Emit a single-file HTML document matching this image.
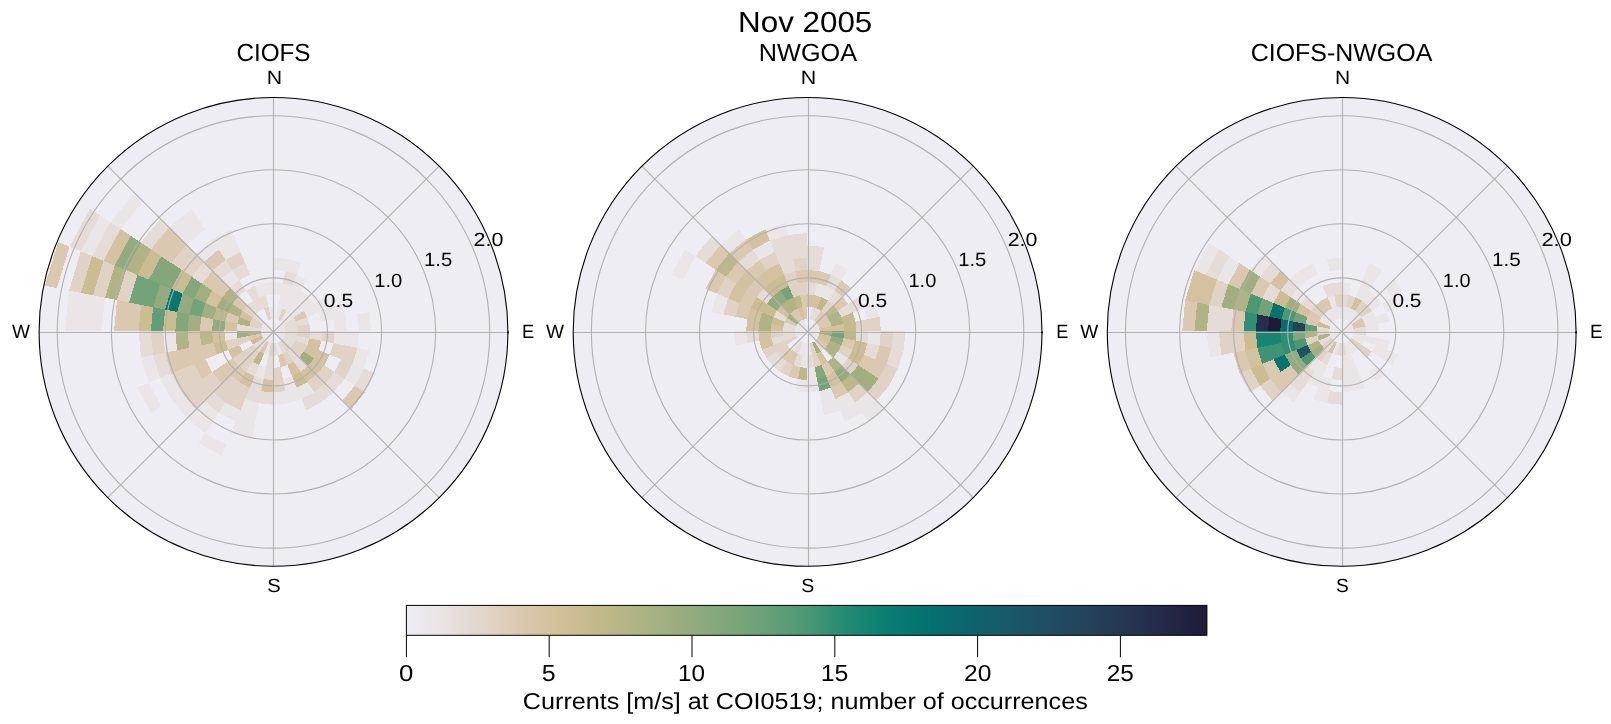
<!DOCTYPE html><html><head><meta charset="utf-8"><title>Nov 2005</title><style>html,body{margin:0;padding:0;background:#fff}body{width:1611px;height:724px;overflow:hidden}svg{display:block}text{font-family:"Liberation Sans",sans-serif;fill:#000}</style></head><body>
<svg width="1611" height="724" viewBox="0 0 1611 724">
<rect width="1611" height="724" fill="#fff"/>
<defs>
<clipPath id="c0"><circle cx="273.5" cy="331.9" r="234.4"/></clipPath>
<clipPath id="c1"><circle cx="807.6" cy="331.9" r="234.4"/></clipPath>
<clipPath id="c2"><circle cx="1341.7" cy="331.9" r="234.4"/></clipPath>
<linearGradient id="cb" x1="0" x2="1" y1="0" y2="0"><stop offset="0.000" stop-color="#eeedf3"/><stop offset="0.050" stop-color="#e8e2e2"/><stop offset="0.100" stop-color="#e1d4c8"/><stop offset="0.150" stop-color="#dac6ac"/><stop offset="0.200" stop-color="#d0be96"/><stop offset="0.250" stop-color="#beb888"/><stop offset="0.300" stop-color="#aab282"/><stop offset="0.350" stop-color="#96ac7e"/><stop offset="0.400" stop-color="#80a67b"/><stop offset="0.450" stop-color="#68a078"/><stop offset="0.500" stop-color="#4c9875"/><stop offset="0.550" stop-color="#228b73"/><stop offset="0.600" stop-color="#0a7e72"/><stop offset="0.650" stop-color="#047170"/><stop offset="0.700" stop-color="#0c656e"/><stop offset="0.750" stop-color="#18596a"/><stop offset="0.800" stop-color="#204e64"/><stop offset="0.850" stop-color="#24425c"/><stop offset="0.900" stop-color="#263652"/><stop offset="0.950" stop-color="#242846"/><stop offset="1.000" stop-color="#201a38"/></linearGradient>
</defs>
<circle cx="273.5" cy="331.9" r="234.4" fill="#eeedf3"/>
<g clip-path="url(#c0)" shape-rendering="crispEdges">
<path d="M273.3 331.2L285.6 331.2L285.3 328.8Z" fill="#eae5e7"/>
<path d="M285.6 331.2L297.8 331.2L297.3 326.4L285.3 328.8Z" fill="#e5dcd7"/>
<path d="M297.8 331.2L310.1 331.2L309.4 324.0L297.3 326.4Z" fill="#e0d2c4"/>
<path d="M334.6 331.2L346.8 331.2L345.4 316.8L333.4 319.2Z" fill="#eae5e7"/>
<path d="M359.1 331.2L371.3 331.2L369.5 312.0L357.4 314.4Z" fill="#eae5e7"/>
<path d="M273.3 331.2L285.3 328.8L284.6 326.5Z" fill="#eae5e7"/>
<path d="M285.3 328.8L297.3 326.4L295.9 321.8L284.6 326.5Z" fill="#e5dcd7"/>
<path d="M297.3 326.4L309.4 324.0L307.3 317.1L295.9 321.8Z" fill="#e5dcd7"/>
<path d="M321.4 321.6L333.4 319.2L329.9 307.7L318.6 312.4Z" fill="#eae5e7"/>
<path d="M333.4 319.2L345.4 316.8L341.2 303.0L329.9 307.7Z" fill="#eae5e7"/>
<path d="M273.3 331.2L284.6 326.5L283.5 324.3Z" fill="#eae5e7"/>
<path d="M284.6 326.5L295.9 321.8L293.7 317.5L283.5 324.3Z" fill="#e5dcd7"/>
<path d="M295.9 321.8L307.3 317.1L303.9 310.7L293.7 317.5Z" fill="#dbc8b0"/>
<path d="M307.3 317.1L318.6 312.4L314.1 303.9L303.9 310.7Z" fill="#eae5e7"/>
<path d="M318.6 312.4L329.9 307.7L324.2 297.1L314.1 303.9Z" fill="#eae5e7"/>
<path d="M273.3 331.2L283.5 324.3L282.0 322.5Z" fill="#eae5e7"/>
<path d="M283.5 324.3L293.7 317.5L290.6 313.8L282.0 322.5Z" fill="#eae5e7"/>
<path d="M293.7 317.5L303.9 310.7L299.3 305.2L290.6 313.8Z" fill="#eae5e7"/>
<path d="M303.9 310.7L314.1 303.9L308.0 296.5L299.3 305.2Z" fill="#eae5e7"/>
<path d="M282.0 322.5L290.6 313.8L286.9 310.8L280.1 321.0Z" fill="#eae5e7"/>
<path d="M290.6 313.8L299.3 305.2L293.7 300.6L286.9 310.8Z" fill="#eae5e7"/>
<path d="M299.3 305.2L308.0 296.5L300.5 290.4L293.7 300.6Z" fill="#eae5e7"/>
<path d="M280.1 321.0L286.9 310.8L282.7 308.5L278.0 319.8Z" fill="#e0d2c4"/>
<path d="M286.9 310.8L293.7 300.6L287.4 297.2L282.7 308.5Z" fill="#eae5e7"/>
<path d="M293.7 300.6L300.5 290.4L292.1 285.9L287.4 297.2Z" fill="#eae5e7"/>
<path d="M300.5 290.4L307.3 280.2L296.7 274.5L292.1 285.9Z" fill="#eae5e7"/>
<path d="M278.0 319.8L282.7 308.5L278.1 307.1L275.7 319.1Z" fill="#eae5e7"/>
<path d="M282.7 308.5L287.4 297.2L280.5 295.1L278.1 307.1Z" fill="#eae5e7"/>
<path d="M287.4 297.2L292.1 285.9L282.9 283.1L280.5 295.1Z" fill="#eae5e7"/>
<path d="M292.1 285.9L296.7 274.5L285.3 271.1L282.9 283.1Z" fill="#e5dcd7"/>
<path d="M296.7 274.5L301.4 263.2L287.6 259.0L285.3 271.1Z" fill="#eae5e7"/>
<path d="M280.5 295.1L282.9 283.1L273.3 282.1L273.3 294.4Z" fill="#eae5e7"/>
<path d="M285.3 271.1L287.6 259.0L273.3 257.6L273.3 269.9Z" fill="#eae5e7"/>
<path d="M273.3 318.9L273.3 306.6L268.5 307.1L270.9 319.1Z" fill="#eae5e7"/>
<path d="M273.3 294.4L273.3 282.1L263.7 283.1L266.1 295.1Z" fill="#eae5e7"/>
<path d="M270.9 319.1L268.5 307.1L263.9 308.5L268.6 319.8Z" fill="#e0d2c4"/>
<path d="M268.5 307.1L266.1 295.1L259.2 297.2L263.9 308.5Z" fill="#e5dcd7"/>
<path d="M266.1 295.1L263.7 283.1L254.5 285.9L259.2 297.2Z" fill="#eae5e7"/>
<path d="M263.9 308.5L259.2 297.2L252.9 300.6L259.7 310.8Z" fill="#e5dcd7"/>
<path d="M259.2 297.2L254.5 285.9L246.1 290.4L252.9 300.6Z" fill="#e5dcd7"/>
<path d="M249.9 274.5L245.2 263.2L232.4 270.0L239.3 280.2Z" fill="#e5dcd7"/>
<path d="M245.2 263.2L240.5 251.9L225.6 259.8L232.4 270.0Z" fill="#e0d2c4"/>
<path d="M240.5 251.9L235.8 240.6L218.8 249.6L225.6 259.8Z" fill="#eae5e7"/>
<path d="M235.8 240.6L231.1 229.3L212.0 239.4L218.8 249.6Z" fill="#eae5e7"/>
<path d="M259.7 310.8L252.9 300.6L247.3 305.2L256.0 313.8Z" fill="#e5dcd7"/>
<path d="M246.1 290.4L239.3 280.2L230.0 287.8L238.6 296.5Z" fill="#e5dcd7"/>
<path d="M239.3 280.2L232.4 270.0L221.3 279.2L230.0 287.8Z" fill="#eae5e7"/>
<path d="M232.4 270.0L225.6 259.8L212.6 270.5L221.3 279.2Z" fill="#e5dcd7"/>
<path d="M225.6 259.8L218.8 249.6L204.0 261.8L212.6 270.5Z" fill="#dbc8b0"/>
<path d="M218.8 249.6L212.0 239.4L195.3 253.2L204.0 261.8Z" fill="#eae5e7"/>
<path d="M205.2 229.3L198.4 219.1L178.0 235.8L186.6 244.5Z" fill="#eae5e7"/>
<path d="M198.4 219.1L191.6 208.9L169.3 227.2L178.0 235.8Z" fill="#eae5e7"/>
<path d="M273.3 331.2L264.6 322.5L263.1 324.3Z" fill="#eae5e7"/>
<path d="M264.6 322.5L256.0 313.8L252.9 317.5L263.1 324.3Z" fill="#e5dcd7"/>
<path d="M256.0 313.8L247.3 305.2L242.7 310.7L252.9 317.5Z" fill="#e0d2c4"/>
<path d="M247.3 305.2L238.6 296.5L232.5 303.9L242.7 310.7Z" fill="#dbc8b0"/>
<path d="M238.6 296.5L230.0 287.8L222.4 297.1L232.5 303.9Z" fill="#b0b484"/>
<path d="M230.0 287.8L221.3 279.2L212.2 290.3L222.4 297.1Z" fill="#dbc8b0"/>
<path d="M221.3 279.2L212.6 270.5L202.0 283.5L212.2 290.3Z" fill="#dbc8b0"/>
<path d="M212.6 270.5L204.0 261.8L191.8 276.7L202.0 283.5Z" fill="#e5dcd7"/>
<path d="M204.0 261.8L195.3 253.2L181.6 269.9L191.8 276.7Z" fill="#e0d2c4"/>
<path d="M195.3 253.2L186.6 244.5L171.4 263.1L181.6 269.9Z" fill="#e0d2c4"/>
<path d="M186.6 244.5L178.0 235.8L161.2 256.3L171.4 263.1Z" fill="#dbc8b0"/>
<path d="M178.0 235.8L169.3 227.2L151.0 249.4L161.2 256.3Z" fill="#dbc8b0"/>
<path d="M169.3 227.2L160.6 218.5L140.8 242.6L151.0 249.4Z" fill="#e5dcd7"/>
<path d="M143.3 201.2L134.7 192.5L110.3 222.2L120.5 229.0Z" fill="#eae5e7"/>
<path d="M273.3 331.2L263.1 324.3L262.0 326.5Z" fill="#eae5e7"/>
<path d="M263.1 324.3L252.9 317.5L250.7 321.8L262.0 326.5Z" fill="#e0d2c4"/>
<path d="M252.9 317.5L242.7 310.7L239.3 317.1L250.7 321.8Z" fill="#d4c19f"/>
<path d="M242.7 310.7L232.5 303.9L228.0 312.4L239.3 317.1Z" fill="#b0b484"/>
<path d="M232.5 303.9L222.4 297.1L216.7 307.7L228.0 312.4Z" fill="#a1af80"/>
<path d="M222.4 297.1L212.2 290.3L205.4 303.0L216.7 307.7Z" fill="#d4c19f"/>
<path d="M212.2 290.3L202.0 283.5L194.0 298.3L205.4 303.0Z" fill="#a1af80"/>
<path d="M202.0 283.5L191.8 276.7L182.7 293.6L194.0 298.3Z" fill="#83a77b"/>
<path d="M191.8 276.7L181.6 269.9L171.4 288.9L182.7 293.6Z" fill="#cbbc92"/>
<path d="M181.6 269.9L171.4 263.1L160.1 284.3L171.4 288.9Z" fill="#83a77b"/>
<path d="M171.4 263.1L161.2 256.3L148.8 279.6L160.1 284.3Z" fill="#83a77b"/>
<path d="M161.2 256.3L151.0 249.4L137.4 274.9L148.8 279.6Z" fill="#cbbc92"/>
<path d="M151.0 249.4L140.8 242.6L126.1 270.2L137.4 274.9Z" fill="#b0b484"/>
<path d="M140.8 242.6L130.6 235.8L114.8 265.5L126.1 270.2Z" fill="#93ab7e"/>
<path d="M130.6 235.8L120.5 229.0L103.5 260.8L114.8 265.5Z" fill="#d4c19f"/>
<path d="M120.5 229.0L110.3 222.2L92.1 256.1L103.5 260.8Z" fill="#e5dcd7"/>
<path d="M110.3 222.2L100.1 215.4L80.8 251.4L92.1 256.1Z" fill="#eae5e7"/>
<path d="M100.1 215.4L89.9 208.6L69.5 246.7L80.8 251.4Z" fill="#e5dcd7"/>
<path d="M273.3 331.2L262.0 326.5L261.3 328.8Z" fill="#eae5e7"/>
<path d="M262.0 326.5L250.7 321.8L249.3 326.4L261.3 328.8Z" fill="#e0d2c4"/>
<path d="M250.7 321.8L239.3 317.1L237.2 324.0L249.3 326.4Z" fill="#b0b484"/>
<path d="M239.3 317.1L228.0 312.4L225.2 321.6L237.2 324.0Z" fill="#dbc8b0"/>
<path d="M228.0 312.4L216.7 307.7L213.2 319.2L225.2 321.6Z" fill="#beb888"/>
<path d="M216.7 307.7L205.4 303.0L201.2 316.8L213.2 319.2Z" fill="#a1af80"/>
<path d="M205.4 303.0L194.0 298.3L189.2 314.4L201.2 316.8Z" fill="#72a379"/>
<path d="M194.0 298.3L182.7 293.6L177.1 312.0L189.2 314.4Z" fill="#93ab7e"/>
<path d="M182.7 293.6L171.4 288.9L165.1 309.6L177.1 312.0Z" fill="#077871"/>
<path d="M171.4 288.9L160.1 284.3L153.1 307.2L165.1 309.6Z" fill="#93ab7e"/>
<path d="M160.1 284.3L148.8 279.6L141.1 304.9L153.1 307.2Z" fill="#72a379"/>
<path d="M148.8 279.6L137.4 274.9L129.1 302.5L141.1 304.9Z" fill="#72a379"/>
<path d="M137.4 274.9L126.1 270.2L117.0 300.1L129.1 302.5Z" fill="#e0d2c4"/>
<path d="M126.1 270.2L114.8 265.5L105.0 297.7L117.0 300.1Z" fill="#b0b484"/>
<path d="M114.8 265.5L103.5 260.8L93.0 295.3L105.0 297.7Z" fill="#e0d2c4"/>
<path d="M103.5 260.8L92.1 256.1L81.0 292.9L93.0 295.3Z" fill="#cbbc92"/>
<path d="M92.1 256.1L80.8 251.4L69.0 290.5L81.0 292.9Z" fill="#e0d2c4"/>
<path d="M69.5 246.7L58.2 242.0L44.9 285.7L56.9 288.1Z" fill="#dbc8b0"/>
<path d="M273.3 331.2L261.3 328.8L261.0 331.2Z" fill="#eae5e7"/>
<path d="M261.3 328.8L249.3 326.4L248.8 331.2L261.0 331.2Z" fill="#e5dcd7"/>
<path d="M249.3 326.4L237.2 324.0L236.5 331.2L248.8 331.2Z" fill="#e5dcd7"/>
<path d="M237.2 324.0L225.2 321.6L224.3 331.2L236.5 331.2Z" fill="#d4c19f"/>
<path d="M225.2 321.6L213.2 319.2L212.0 331.2L224.3 331.2Z" fill="#93ab7e"/>
<path d="M213.2 319.2L201.2 316.8L199.8 331.2L212.0 331.2Z" fill="#dbc8b0"/>
<path d="M201.2 316.8L189.2 314.4L187.5 331.2L199.8 331.2Z" fill="#a1af80"/>
<path d="M189.2 314.4L177.1 312.0L175.3 331.2L187.5 331.2Z" fill="#83a77b"/>
<path d="M177.1 312.0L165.1 309.6L163.0 331.2L175.3 331.2Z" fill="#cbbc92"/>
<path d="M165.1 309.6L153.1 307.2L150.8 331.2L163.0 331.2Z" fill="#609e77"/>
<path d="M153.1 307.2L141.1 304.9L138.5 331.2L150.8 331.2Z" fill="#cbbc92"/>
<path d="M141.1 304.9L129.1 302.5L126.2 331.2L138.5 331.2Z" fill="#dbc8b0"/>
<path d="M129.1 302.5L117.0 300.1L114.0 331.2L126.2 331.2Z" fill="#dbc8b0"/>
<path d="M105.0 297.7L93.0 295.3L89.5 331.2L101.7 331.2Z" fill="#eae5e7"/>
<path d="M93.0 295.3L81.0 292.9L77.2 331.2L89.5 331.2Z" fill="#eae5e7"/>
<path d="M81.0 292.9L69.0 290.5L65.0 331.2L77.2 331.2Z" fill="#eae5e7"/>
<path d="M273.3 331.2L261.0 331.2L261.3 333.5Z" fill="#e5dcd7"/>
<path d="M261.0 331.2L248.8 331.2L249.3 335.9L261.3 333.5Z" fill="#b0b484"/>
<path d="M248.8 331.2L236.5 331.2L237.2 338.3L249.3 335.9Z" fill="#a1af80"/>
<path d="M236.5 331.2L224.3 331.2L225.2 340.7L237.2 338.3Z" fill="#eae5e7"/>
<path d="M224.3 331.2L212.0 331.2L213.2 343.1L225.2 340.7Z" fill="#d4c19f"/>
<path d="M212.0 331.2L199.8 331.2L201.2 345.5L213.2 343.1Z" fill="#beb888"/>
<path d="M199.8 331.2L187.5 331.2L189.2 347.9L201.2 345.5Z" fill="#dbc8b0"/>
<path d="M187.5 331.2L175.3 331.2L177.1 350.3L189.2 347.9Z" fill="#b0b484"/>
<path d="M175.3 331.2L163.0 331.2L165.1 352.7L177.1 350.3Z" fill="#eae5e7"/>
<path d="M163.0 331.2L150.8 331.2L153.1 355.1L165.1 352.7Z" fill="#e0d2c4"/>
<path d="M150.8 331.2L138.5 331.2L141.1 357.4L153.1 355.1Z" fill="#e5dcd7"/>
<path d="M273.3 331.2L261.3 333.5L262.0 335.8Z" fill="#eae5e7"/>
<path d="M261.3 333.5L249.3 335.9L250.7 340.5L262.0 335.8Z" fill="#dbc8b0"/>
<path d="M249.3 335.9L237.2 338.3L239.3 345.2L250.7 340.5Z" fill="#e0d2c4"/>
<path d="M237.2 338.3L225.2 340.7L228.0 349.9L239.3 345.2Z" fill="#e0d2c4"/>
<path d="M225.2 340.7L213.2 343.1L216.7 354.6L228.0 349.9Z" fill="#cbbc92"/>
<path d="M213.2 343.1L201.2 345.5L205.4 359.3L216.7 354.6Z" fill="#dbc8b0"/>
<path d="M201.2 345.5L189.2 347.9L194.0 364.0L205.4 359.3Z" fill="#dbc8b0"/>
<path d="M189.2 347.9L177.1 350.3L182.7 368.7L194.0 364.0Z" fill="#dbc8b0"/>
<path d="M177.1 350.3L165.1 352.7L171.4 373.4L182.7 368.7Z" fill="#dbc8b0"/>
<path d="M165.1 352.7L153.1 355.1L160.1 378.0L171.4 373.4Z" fill="#e5dcd7"/>
<path d="M153.1 355.1L141.1 357.4L148.8 382.7L160.1 378.0Z" fill="#eae5e7"/>
<path d="M273.3 331.2L262.0 335.8L263.1 338.0Z" fill="#eae5e7"/>
<path d="M262.0 335.8L250.7 340.5L252.9 344.8L263.1 338.0Z" fill="#cbbc92"/>
<path d="M239.3 345.2L228.0 349.9L232.5 358.4L242.7 351.6Z" fill="#d4c19f"/>
<path d="M205.4 359.3L194.0 364.0L202.0 378.8L212.2 372.0Z" fill="#dbc8b0"/>
<path d="M194.0 364.0L182.7 368.7L191.8 385.6L202.0 378.8Z" fill="#e0d2c4"/>
<path d="M182.7 368.7L171.4 373.4L181.6 392.4L191.8 385.6Z" fill="#e0d2c4"/>
<path d="M171.4 373.4L160.1 378.0L171.4 399.2L181.6 392.4Z" fill="#eae5e7"/>
<path d="M148.8 382.7L137.4 387.4L151.0 412.9L161.2 406.0Z" fill="#eae5e7"/>
<path d="M273.3 331.2L263.1 338.0L264.6 339.8Z" fill="#eae5e7"/>
<path d="M263.1 338.0L252.9 344.8L256.0 348.5L264.6 339.8Z" fill="#e5dcd7"/>
<path d="M252.9 344.8L242.7 351.6L247.3 357.1L256.0 348.5Z" fill="#e0d2c4"/>
<path d="M242.7 351.6L232.5 358.4L238.6 365.8L247.3 357.1Z" fill="#e0d2c4"/>
<path d="M232.5 358.4L222.4 365.2L230.0 374.5L238.6 365.8Z" fill="#dbc8b0"/>
<path d="M222.4 365.2L212.2 372.0L221.3 383.1L230.0 374.5Z" fill="#dbc8b0"/>
<path d="M212.2 372.0L202.0 378.8L212.6 391.8L221.3 383.1Z" fill="#e0d2c4"/>
<path d="M202.0 378.8L191.8 385.6L204.0 400.5L212.6 391.8Z" fill="#e0d2c4"/>
<path d="M191.8 385.6L181.6 392.4L195.3 409.1L204.0 400.5Z" fill="#e0d2c4"/>
<path d="M181.6 392.4L171.4 399.2L186.6 417.8L195.3 409.1Z" fill="#eae5e7"/>
<path d="M273.3 331.2L264.6 339.8L266.5 341.3Z" fill="#eae5e7"/>
<path d="M264.6 339.8L256.0 348.5L259.7 351.5L266.5 341.3Z" fill="#e5dcd7"/>
<path d="M256.0 348.5L247.3 357.1L252.9 361.7L259.7 351.5Z" fill="#e0d2c4"/>
<path d="M247.3 357.1L238.6 365.8L246.1 371.9L252.9 361.7Z" fill="#e0d2c4"/>
<path d="M238.6 365.8L230.0 374.5L239.3 382.1L246.1 371.9Z" fill="#dbc8b0"/>
<path d="M230.0 374.5L221.3 383.1L232.4 392.3L239.3 382.1Z" fill="#e0d2c4"/>
<path d="M221.3 383.1L212.6 391.8L225.6 402.5L232.4 392.3Z" fill="#e0d2c4"/>
<path d="M212.6 391.8L204.0 400.5L218.8 412.7L225.6 402.5Z" fill="#e5dcd7"/>
<path d="M204.0 400.5L195.3 409.1L212.0 422.9L218.8 412.7Z" fill="#eae5e7"/>
<path d="M195.3 409.1L186.6 417.8L205.2 433.0L212.0 422.9Z" fill="#eae5e7"/>
<path d="M273.3 331.2L266.5 341.3L268.6 342.5Z" fill="#eae5e7"/>
<path d="M266.5 341.3L259.7 351.5L263.9 353.8L268.6 342.5Z" fill="#dbc8b0"/>
<path d="M259.7 351.5L252.9 361.7L259.2 365.1L263.9 353.8Z" fill="#beb888"/>
<path d="M252.9 361.7L246.1 371.9L254.5 376.4L259.2 365.1Z" fill="#e5dcd7"/>
<path d="M246.1 371.9L239.3 382.1L249.9 387.8L254.5 376.4Z" fill="#d4c19f"/>
<path d="M239.3 382.1L232.4 392.3L245.2 399.1L249.9 387.8Z" fill="#e0d2c4"/>
<path d="M232.4 392.3L225.6 402.5L240.5 410.4L245.2 399.1Z" fill="#e0d2c4"/>
<path d="M225.6 402.5L218.8 412.7L235.8 421.7L240.5 410.4Z" fill="#eae5e7"/>
<path d="M205.2 433.0L198.4 443.2L221.7 455.7L226.4 444.4Z" fill="#eae5e7"/>
<path d="M273.3 331.2L268.6 342.5L270.9 343.2Z" fill="#eae5e7"/>
<path d="M268.6 342.5L263.9 353.8L268.5 355.2L270.9 343.2Z" fill="#eae5e7"/>
<path d="M259.2 365.1L254.5 376.4L263.7 379.2L266.1 367.2Z" fill="#eae5e7"/>
<path d="M254.5 376.4L249.9 387.8L261.3 391.2L263.7 379.2Z" fill="#e5dcd7"/>
<path d="M249.9 387.8L245.2 399.1L259.0 403.3L261.3 391.2Z" fill="#e5dcd7"/>
<path d="M245.2 399.1L240.5 410.4L256.6 415.3L259.0 403.3Z" fill="#eae5e7"/>
<path d="M240.5 410.4L235.8 421.7L254.2 427.3L256.6 415.3Z" fill="#eae5e7"/>
<path d="M235.8 421.7L231.1 433.0L251.8 439.3L254.2 427.3Z" fill="#eae5e7"/>
<path d="M273.3 331.2L270.9 343.2L273.3 343.4Z" fill="#eae5e7"/>
<path d="M270.9 343.2L268.5 355.2L273.3 355.7L273.3 343.4Z" fill="#e0d2c4"/>
<path d="M268.5 355.2L266.1 367.2L273.3 367.9L273.3 355.7Z" fill="#e5dcd7"/>
<path d="M266.1 367.2L263.7 379.2L273.3 380.2L273.3 367.9Z" fill="#e5dcd7"/>
<path d="M263.7 379.2L261.3 391.2L273.3 392.4L273.3 380.2Z" fill="#d4c19f"/>
<path d="M261.3 391.2L259.0 403.3L273.3 404.7L273.3 392.4Z" fill="#e5dcd7"/>
<path d="M273.3 343.4L273.3 355.7L278.1 355.2L275.7 343.2Z" fill="#e5dcd7"/>
<path d="M273.3 367.9L273.3 380.2L282.9 379.2L280.5 367.2Z" fill="#e0d2c4"/>
<path d="M273.3 380.2L273.3 392.4L285.3 391.2L282.9 379.2Z" fill="#e0d2c4"/>
<path d="M273.3 392.4L273.3 404.7L287.6 403.3L285.3 391.2Z" fill="#eae5e7"/>
<path d="M275.7 343.2L278.1 355.2L282.7 353.8L278.0 342.5Z" fill="#eae5e7"/>
<path d="M278.1 355.2L280.5 367.2L287.4 365.1L282.7 353.8Z" fill="#dbc8b0"/>
<path d="M282.9 379.2L285.3 391.2L296.7 387.8L292.1 376.4Z" fill="#eae5e7"/>
<path d="M285.3 391.2L287.6 403.3L301.4 399.1L296.7 387.8Z" fill="#eae5e7"/>
<path d="M278.0 342.5L282.7 353.8L286.9 351.5L280.1 341.3Z" fill="#e5dcd7"/>
<path d="M282.7 353.8L287.4 365.1L293.7 361.7L286.9 351.5Z" fill="#e0d2c4"/>
<path d="M287.4 365.1L292.1 376.4L300.5 371.9L293.7 361.7Z" fill="#d4c19f"/>
<path d="M292.1 376.4L296.7 387.8L307.3 382.1L300.5 371.9Z" fill="#cbbc92"/>
<path d="M296.7 387.8L301.4 399.1L314.2 392.3L307.3 382.1Z" fill="#eae5e7"/>
<path d="M301.4 399.1L306.1 410.4L321.0 402.5L314.2 392.3Z" fill="#e5dcd7"/>
<path d="M273.3 331.2L280.1 341.3L282.0 339.8Z" fill="#eae5e7"/>
<path d="M280.1 341.3L286.9 351.5L290.6 348.5L282.0 339.8Z" fill="#e0d2c4"/>
<path d="M286.9 351.5L293.7 361.7L299.3 357.1L290.6 348.5Z" fill="#e5dcd7"/>
<path d="M293.7 361.7L300.5 371.9L308.0 365.8L299.3 357.1Z" fill="#e5dcd7"/>
<path d="M300.5 371.9L307.3 382.1L316.6 374.5L308.0 365.8Z" fill="#d4c19f"/>
<path d="M307.3 382.1L314.2 392.3L325.3 383.1L316.6 374.5Z" fill="#e0d2c4"/>
<path d="M314.2 392.3L321.0 402.5L334.0 391.8L325.3 383.1Z" fill="#e5dcd7"/>
<path d="M273.3 331.2L282.0 339.8L283.5 338.0Z" fill="#eae5e7"/>
<path d="M282.0 339.8L290.6 348.5L293.7 344.8L283.5 338.0Z" fill="#e5dcd7"/>
<path d="M290.6 348.5L299.3 357.1L303.9 351.6L293.7 344.8Z" fill="#e0d2c4"/>
<path d="M299.3 357.1L308.0 365.8L314.1 358.4L303.9 351.6Z" fill="#a1af80"/>
<path d="M308.0 365.8L316.6 374.5L324.2 365.2L314.1 358.4Z" fill="#d4c19f"/>
<path d="M316.6 374.5L325.3 383.1L334.4 372.0L324.2 365.2Z" fill="#e0d2c4"/>
<path d="M325.3 383.1L334.0 391.8L344.6 378.8L334.4 372.0Z" fill="#e5dcd7"/>
<path d="M342.6 400.5L351.3 409.1L365.0 392.4L354.8 385.6Z" fill="#dbc8b0"/>
<path d="M273.3 331.2L283.5 338.0L284.6 335.8Z" fill="#eae5e7"/>
<path d="M283.5 338.0L293.7 344.8L295.9 340.5L284.6 335.8Z" fill="#e5dcd7"/>
<path d="M293.7 344.8L303.9 351.6L307.3 345.2L295.9 340.5Z" fill="#e0d2c4"/>
<path d="M303.9 351.6L314.1 358.4L318.6 349.9L307.3 345.2Z" fill="#d4c19f"/>
<path d="M314.1 358.4L324.2 365.2L329.9 354.6L318.6 349.9Z" fill="#d4c19f"/>
<path d="M334.4 372.0L344.6 378.8L352.6 364.0L341.2 359.3Z" fill="#e0d2c4"/>
<path d="M344.6 378.8L354.8 385.6L363.9 368.7L352.6 364.0Z" fill="#eae5e7"/>
<path d="M354.8 385.6L365.0 392.4L375.2 373.4L363.9 368.7Z" fill="#e5dcd7"/>
<path d="M273.3 331.2L284.6 335.8L285.3 333.5Z" fill="#eae5e7"/>
<path d="M284.6 335.8L295.9 340.5L297.3 335.9L285.3 333.5Z" fill="#e5dcd7"/>
<path d="M295.9 340.5L307.3 345.2L309.4 338.3L297.3 335.9Z" fill="#e5dcd7"/>
<path d="M307.3 345.2L318.6 349.9L321.4 340.7L309.4 338.3Z" fill="#d4c19f"/>
<path d="M329.9 354.6L341.2 359.3L345.4 345.5L333.4 343.1Z" fill="#e0d2c4"/>
<path d="M341.2 359.3L352.6 364.0L357.4 347.9L345.4 345.5Z" fill="#e0d2c4"/>
<path d="M352.6 364.0L363.9 368.7L369.5 350.3L357.4 347.9Z" fill="#eae5e7"/>
<path d="M273.3 331.2L285.3 333.5L285.6 331.2Z" fill="#eae5e7"/>
<path d="M285.3 333.5L297.3 335.9L297.8 331.2L285.6 331.2Z" fill="#e5dcd7"/>
<path d="M297.3 335.9L309.4 338.3L310.1 331.2L297.8 331.2Z" fill="#e0d2c4"/>
<path d="M309.4 338.3L321.4 340.7L322.3 331.2L310.1 331.2Z" fill="#e5dcd7"/>
<path d="M321.4 340.7L333.4 343.1L334.6 331.2L322.3 331.2Z" fill="#e0d2c4"/>
<path d="M333.4 343.1L345.4 345.5L346.8 331.2L334.6 331.2Z" fill="#eae5e7"/>
<path d="M345.4 345.5L357.4 347.9L359.1 331.2L346.8 331.2Z" fill="#eae5e7"/>
</g>
<g stroke="#b0b0b0" stroke-width="1.1" fill="none" clip-path="url(#c0)">
<circle cx="273.5" cy="331.9" r="54.0"/>
<circle cx="273.5" cy="331.9" r="108.1"/>
<circle cx="273.5" cy="331.9" r="162.1"/>
<circle cx="273.5" cy="331.9" r="216.2"/>
<line x1="273.5" y1="331.9" x2="439.2" y2="166.1"/>
<line x1="273.5" y1="331.9" x2="107.8" y2="166.1"/>
<line x1="273.5" y1="331.9" x2="107.8" y2="497.6"/>
<line x1="273.5" y1="331.9" x2="439.2" y2="497.6"/>
<line x1="273.5" y1="97.5" x2="273.5" y2="566.2"/>
<line x1="39.1" y1="332.5" x2="507.9" y2="332.5"/>
</g>
<circle cx="273.5" cy="331.9" r="234.4" fill="none" stroke="#000" stroke-width="1.1"/>
<rect x="507.0" y="331.5" width="1.8" height="1.8" fill="#000"/>
<circle cx="807.6" cy="331.9" r="234.4" fill="#eeedf3"/>
<g clip-path="url(#c1)" shape-rendering="crispEdges">
<path d="M807.4 331.2L819.7 331.2L819.4 328.8Z" fill="#eae5e7"/>
<path d="M819.7 331.2L831.9 331.2L831.4 326.4L819.4 328.8Z" fill="#d4c19f"/>
<path d="M831.9 331.2L844.2 331.2L843.5 324.0L831.4 326.4Z" fill="#d4c19f"/>
<path d="M844.2 331.2L856.4 331.2L855.5 321.6L843.5 324.0Z" fill="#c4ba8d"/>
<path d="M856.4 331.2L868.7 331.2L867.5 319.2L855.5 321.6Z" fill="#e0d2c4"/>
<path d="M868.7 331.2L880.9 331.2L879.5 316.8L867.5 319.2Z" fill="#e0d2c4"/>
<path d="M807.4 331.2L819.4 328.8L818.7 326.5Z" fill="#eae5e7"/>
<path d="M819.4 328.8L831.4 326.4L830.0 321.8L818.7 326.5Z" fill="#dbc8b0"/>
<path d="M831.4 326.4L843.5 324.0L841.4 317.1L830.0 321.8Z" fill="#b0b484"/>
<path d="M843.5 324.0L855.5 321.6L852.7 312.4L841.4 317.1Z" fill="#c4ba8d"/>
<path d="M867.5 319.2L879.5 316.8L875.3 303.0L864.0 307.7Z" fill="#eae5e7"/>
<path d="M807.4 331.2L818.7 326.5L817.6 324.3Z" fill="#eae5e7"/>
<path d="M818.7 326.5L830.0 321.8L827.8 317.5L817.6 324.3Z" fill="#dbc8b0"/>
<path d="M830.0 321.8L841.4 317.1L838.0 310.7L827.8 317.5Z" fill="#b0b484"/>
<path d="M841.4 317.1L852.7 312.4L848.2 303.9L838.0 310.7Z" fill="#e5dcd7"/>
<path d="M852.7 312.4L864.0 307.7L858.3 297.1L848.2 303.9Z" fill="#e5dcd7"/>
<path d="M807.4 331.2L817.6 324.3L816.1 322.5Z" fill="#eae5e7"/>
<path d="M817.6 324.3L827.8 317.5L824.7 313.8L816.1 322.5Z" fill="#dbc8b0"/>
<path d="M827.8 317.5L838.0 310.7L833.4 305.2L824.7 313.8Z" fill="#beb888"/>
<path d="M838.0 310.7L848.2 303.9L842.1 296.5L833.4 305.2Z" fill="#dbc8b0"/>
<path d="M807.4 331.2L816.1 322.5L814.2 321.0Z" fill="#eae5e7"/>
<path d="M816.1 322.5L824.7 313.8L821.0 310.8L814.2 321.0Z" fill="#dbc8b0"/>
<path d="M824.7 313.8L833.4 305.2L827.8 300.6L821.0 310.8Z" fill="#e0d2c4"/>
<path d="M833.4 305.2L842.1 296.5L834.6 290.4L827.8 300.6Z" fill="#e5dcd7"/>
<path d="M842.1 296.5L850.7 287.8L841.4 280.2L834.6 290.4Z" fill="#dbc8b0"/>
<path d="M814.2 321.0L821.0 310.8L816.8 308.5L812.1 319.8Z" fill="#e5dcd7"/>
<path d="M821.0 310.8L827.8 300.6L821.5 297.2L816.8 308.5Z" fill="#beb888"/>
<path d="M827.8 300.6L834.6 290.4L826.2 285.9L821.5 297.2Z" fill="#eae5e7"/>
<path d="M834.6 290.4L841.4 280.2L830.8 274.5L826.2 285.9Z" fill="#e5dcd7"/>
<path d="M841.4 280.2L848.3 270.0L835.5 263.2L830.8 274.5Z" fill="#eae5e7"/>
<path d="M812.1 319.8L816.8 308.5L812.2 307.1L809.8 319.1Z" fill="#e5dcd7"/>
<path d="M816.8 308.5L821.5 297.2L814.6 295.1L812.2 307.1Z" fill="#d4c19f"/>
<path d="M821.5 297.2L826.2 285.9L817.0 283.1L814.6 295.1Z" fill="#eae5e7"/>
<path d="M826.2 285.9L830.8 274.5L819.4 271.1L817.0 283.1Z" fill="#dbc8b0"/>
<path d="M812.2 307.1L814.6 295.1L807.4 294.4L807.4 306.6Z" fill="#d4c19f"/>
<path d="M814.6 295.1L817.0 283.1L807.4 282.1L807.4 294.4Z" fill="#e5dcd7"/>
<path d="M817.0 283.1L819.4 271.1L807.4 269.9L807.4 282.1Z" fill="#dbc8b0"/>
<path d="M819.4 271.1L821.7 259.0L807.4 257.6L807.4 269.9Z" fill="#e5dcd7"/>
<path d="M821.7 259.0L824.1 247.0L807.4 245.4L807.4 257.6Z" fill="#e5dcd7"/>
<path d="M807.4 318.9L807.4 306.6L802.6 307.1L805.0 319.1Z" fill="#dbc8b0"/>
<path d="M807.4 306.6L807.4 294.4L800.2 295.1L802.6 307.1Z" fill="#dbc8b0"/>
<path d="M807.4 294.4L807.4 282.1L797.8 283.1L800.2 295.1Z" fill="#e0d2c4"/>
<path d="M807.4 282.1L807.4 269.9L795.4 271.1L797.8 283.1Z" fill="#dbc8b0"/>
<path d="M807.4 269.9L807.4 257.6L793.1 259.0L795.4 271.1Z" fill="#e0d2c4"/>
<path d="M807.4 257.6L807.4 245.4L790.7 247.0L793.1 259.0Z" fill="#e5dcd7"/>
<path d="M807.4 245.4L807.4 233.1L788.3 235.0L790.7 247.0Z" fill="#e5dcd7"/>
<path d="M807.4 331.2L805.0 319.1L802.7 319.8Z" fill="#eae5e7"/>
<path d="M805.0 319.1L802.6 307.1L798.0 308.5L802.7 319.8Z" fill="#d4c19f"/>
<path d="M802.6 307.1L800.2 295.1L793.3 297.2L798.0 308.5Z" fill="#beb888"/>
<path d="M800.2 295.1L797.8 283.1L788.6 285.9L793.3 297.2Z" fill="#e0d2c4"/>
<path d="M797.8 283.1L795.4 271.1L784.0 274.5L788.6 285.9Z" fill="#e0d2c4"/>
<path d="M795.4 271.1L793.1 259.0L779.3 263.2L784.0 274.5Z" fill="#e5dcd7"/>
<path d="M793.1 259.0L790.7 247.0L774.6 251.9L779.3 263.2Z" fill="#e5dcd7"/>
<path d="M790.7 247.0L788.3 235.0L769.9 240.6L774.6 251.9Z" fill="#e5dcd7"/>
<path d="M788.3 235.0L785.9 223.0L765.2 229.3L769.9 240.6Z" fill="#eae5e7"/>
<path d="M807.4 331.2L802.7 319.8L800.6 321.0Z" fill="#eae5e7"/>
<path d="M802.7 319.8L798.0 308.5L793.8 310.8L800.6 321.0Z" fill="#dbc8b0"/>
<path d="M798.0 308.5L793.3 297.2L787.0 300.6L793.8 310.8Z" fill="#b0b484"/>
<path d="M793.3 297.2L788.6 285.9L780.2 290.4L787.0 300.6Z" fill="#72a379"/>
<path d="M788.6 285.9L784.0 274.5L773.4 280.2L780.2 290.4Z" fill="#cbbc92"/>
<path d="M784.0 274.5L779.3 263.2L766.5 270.0L773.4 280.2Z" fill="#d4c19f"/>
<path d="M779.3 263.2L774.6 251.9L759.7 259.8L766.5 270.0Z" fill="#e0d2c4"/>
<path d="M774.6 251.9L769.9 240.6L752.9 249.6L759.7 259.8Z" fill="#eae5e7"/>
<path d="M769.9 240.6L765.2 229.3L746.1 239.4L752.9 249.6Z" fill="#d4c19f"/>
<path d="M807.4 331.2L800.6 321.0L798.7 322.5Z" fill="#eae5e7"/>
<path d="M800.6 321.0L793.8 310.8L790.1 313.8L798.7 322.5Z" fill="#dbc8b0"/>
<path d="M793.8 310.8L787.0 300.6L781.4 305.2L790.1 313.8Z" fill="#b0b484"/>
<path d="M787.0 300.6L780.2 290.4L772.7 296.5L781.4 305.2Z" fill="#93ab7e"/>
<path d="M780.2 290.4L773.4 280.2L764.1 287.8L772.7 296.5Z" fill="#cbbc92"/>
<path d="M773.4 280.2L766.5 270.0L755.4 279.2L764.1 287.8Z" fill="#d4c19f"/>
<path d="M766.5 270.0L759.7 259.8L746.7 270.5L755.4 279.2Z" fill="#dbc8b0"/>
<path d="M759.7 259.8L752.9 249.6L738.1 261.8L746.7 270.5Z" fill="#e5dcd7"/>
<path d="M752.9 249.6L746.1 239.4L729.4 253.2L738.1 261.8Z" fill="#dbc8b0"/>
<path d="M746.1 239.4L739.3 229.3L720.7 244.5L729.4 253.2Z" fill="#eae5e7"/>
<path d="M807.4 331.2L798.7 322.5L797.2 324.3Z" fill="#eae5e7"/>
<path d="M798.7 322.5L790.1 313.8L787.0 317.5L797.2 324.3Z" fill="#a1af80"/>
<path d="M790.1 313.8L781.4 305.2L776.8 310.7L787.0 317.5Z" fill="#d4c19f"/>
<path d="M781.4 305.2L772.7 296.5L766.6 303.9L776.8 310.7Z" fill="#93ab7e"/>
<path d="M772.7 296.5L764.1 287.8L756.5 297.1L766.6 303.9Z" fill="#e5dcd7"/>
<path d="M764.1 287.8L755.4 279.2L746.3 290.3L756.5 297.1Z" fill="#dbc8b0"/>
<path d="M755.4 279.2L746.7 270.5L736.1 283.5L746.3 290.3Z" fill="#d4c19f"/>
<path d="M746.7 270.5L738.1 261.8L725.9 276.7L736.1 283.5Z" fill="#dbc8b0"/>
<path d="M738.1 261.8L729.4 253.2L715.7 269.9L725.9 276.7Z" fill="#beb888"/>
<path d="M729.4 253.2L720.7 244.5L705.5 263.1L715.7 269.9Z" fill="#dbc8b0"/>
<path d="M720.7 244.5L712.1 235.8L695.3 256.3L705.5 263.1Z" fill="#e5dcd7"/>
<path d="M807.4 331.2L797.2 324.3L796.1 326.5Z" fill="#eae5e7"/>
<path d="M797.2 324.3L787.0 317.5L784.8 321.8L796.1 326.5Z" fill="#dbc8b0"/>
<path d="M787.0 317.5L776.8 310.7L773.4 317.1L784.8 321.8Z" fill="#e5dcd7"/>
<path d="M776.8 310.7L766.6 303.9L762.1 312.4L773.4 317.1Z" fill="#cbbc92"/>
<path d="M766.6 303.9L756.5 297.1L750.8 307.7L762.1 312.4Z" fill="#cbbc92"/>
<path d="M756.5 297.1L746.3 290.3L739.5 303.0L750.8 307.7Z" fill="#dbc8b0"/>
<path d="M746.3 290.3L736.1 283.5L728.1 298.3L739.5 303.0Z" fill="#d4c19f"/>
<path d="M736.1 283.5L725.9 276.7L716.8 293.6L728.1 298.3Z" fill="#e0d2c4"/>
<path d="M725.9 276.7L715.7 269.9L705.5 288.9L716.8 293.6Z" fill="#dbc8b0"/>
<path d="M695.3 256.3L685.1 249.4L671.5 274.9L682.9 279.6Z" fill="#eae5e7"/>
<path d="M807.4 331.2L796.1 326.5L795.4 328.8Z" fill="#eae5e7"/>
<path d="M796.1 326.5L784.8 321.8L783.4 326.4L795.4 328.8Z" fill="#e5dcd7"/>
<path d="M784.8 321.8L773.4 317.1L771.3 324.0L783.4 326.4Z" fill="#cbbc92"/>
<path d="M773.4 317.1L762.1 312.4L759.3 321.6L771.3 324.0Z" fill="#b0b484"/>
<path d="M762.1 312.4L750.8 307.7L747.3 319.2L759.3 321.6Z" fill="#d4c19f"/>
<path d="M750.8 307.7L739.5 303.0L735.3 316.8L747.3 319.2Z" fill="#dbc8b0"/>
<path d="M739.5 303.0L728.1 298.3L723.3 314.4L735.3 316.8Z" fill="#e0d2c4"/>
<path d="M728.1 298.3L716.8 293.6L711.2 312.0L723.3 314.4Z" fill="#eae5e7"/>
<path d="M807.4 331.2L795.4 328.8L795.1 331.2Z" fill="#eae5e7"/>
<path d="M795.4 328.8L783.4 326.4L782.9 331.2L795.1 331.2Z" fill="#e5dcd7"/>
<path d="M783.4 326.4L771.3 324.0L770.6 331.2L782.9 331.2Z" fill="#d4c19f"/>
<path d="M771.3 324.0L759.3 321.6L758.4 331.2L770.6 331.2Z" fill="#b0b484"/>
<path d="M759.3 321.6L747.3 319.2L746.1 331.2L758.4 331.2Z" fill="#d4c19f"/>
<path d="M807.4 331.2L795.1 331.2L795.4 333.5Z" fill="#eae5e7"/>
<path d="M795.1 331.2L782.9 331.2L783.4 335.9L795.4 333.5Z" fill="#e5dcd7"/>
<path d="M782.9 331.2L770.6 331.2L771.3 338.3L783.4 335.9Z" fill="#e0d2c4"/>
<path d="M770.6 331.2L758.4 331.2L759.3 340.7L771.3 338.3Z" fill="#d4c19f"/>
<path d="M758.4 331.2L746.1 331.2L747.3 343.1L759.3 340.7Z" fill="#e5dcd7"/>
<path d="M746.1 331.2L733.9 331.2L735.3 345.5L747.3 343.1Z" fill="#eae5e7"/>
<path d="M807.4 331.2L795.4 333.5L796.1 335.8Z" fill="#eae5e7"/>
<path d="M795.4 333.5L783.4 335.9L784.8 340.5L796.1 335.8Z" fill="#e5dcd7"/>
<path d="M783.4 335.9L771.3 338.3L773.4 345.2L784.8 340.5Z" fill="#e5dcd7"/>
<path d="M771.3 338.3L759.3 340.7L762.1 349.9L773.4 345.2Z" fill="#d4c19f"/>
<path d="M807.4 331.2L796.1 335.8L797.2 338.0Z" fill="#eae5e7"/>
<path d="M796.1 335.8L784.8 340.5L787.0 344.8L797.2 338.0Z" fill="#e0d2c4"/>
<path d="M784.8 340.5L773.4 345.2L776.8 351.6L787.0 344.8Z" fill="#e0d2c4"/>
<path d="M773.4 345.2L762.1 349.9L766.6 358.4L776.8 351.6Z" fill="#e0d2c4"/>
<path d="M787.0 344.8L776.8 351.6L781.4 357.1L790.1 348.5Z" fill="#e0d2c4"/>
<path d="M776.8 351.6L766.6 358.4L772.7 365.8L781.4 357.1Z" fill="#e5dcd7"/>
<path d="M798.7 339.8L790.1 348.5L793.8 351.5L800.6 341.3Z" fill="#eae5e7"/>
<path d="M790.1 348.5L781.4 357.1L787.0 361.7L793.8 351.5Z" fill="#dbc8b0"/>
<path d="M781.4 357.1L772.7 365.8L780.2 371.9L787.0 361.7Z" fill="#e5dcd7"/>
<path d="M800.6 341.3L793.8 351.5L798.0 353.8L802.7 342.5Z" fill="#e5dcd7"/>
<path d="M793.8 351.5L787.0 361.7L793.3 365.1L798.0 353.8Z" fill="#dbc8b0"/>
<path d="M787.0 361.7L780.2 371.9L788.6 376.4L793.3 365.1Z" fill="#e0d2c4"/>
<path d="M802.7 342.5L798.0 353.8L802.6 355.2L805.0 343.2Z" fill="#eae5e7"/>
<path d="M798.0 353.8L793.3 365.1L800.2 367.2L802.6 355.2Z" fill="#e5dcd7"/>
<path d="M793.3 365.1L788.6 376.4L797.8 379.2L800.2 367.2Z" fill="#dbc8b0"/>
<path d="M805.0 343.2L802.6 355.2L807.4 355.7L807.4 343.4Z" fill="#eae5e7"/>
<path d="M802.6 355.2L800.2 367.2L807.4 367.9L807.4 355.7Z" fill="#eae5e7"/>
<path d="M800.2 367.2L797.8 379.2L807.4 380.2L807.4 367.9Z" fill="#beb888"/>
<path d="M797.8 379.2L795.4 391.2L807.4 392.4L807.4 380.2Z" fill="#eae5e7"/>
<path d="M807.4 343.4L807.4 355.7L812.2 355.2L809.8 343.2Z" fill="#eae5e7"/>
<path d="M807.4 355.7L807.4 367.9L814.6 367.2L812.2 355.2Z" fill="#e5dcd7"/>
<path d="M807.4 367.9L807.4 380.2L817.0 379.2L814.6 367.2Z" fill="#eae5e7"/>
<path d="M807.4 380.2L807.4 392.4L819.4 391.2L817.0 379.2Z" fill="#eae5e7"/>
<path d="M809.8 343.2L812.2 355.2L816.8 353.8L812.1 342.5Z" fill="#e0d2c4"/>
<path d="M812.2 355.2L814.6 367.2L821.5 365.1L816.8 353.8Z" fill="#e0d2c4"/>
<path d="M814.6 367.2L817.0 379.2L826.2 376.4L821.5 365.1Z" fill="#83a77b"/>
<path d="M817.0 379.2L819.4 391.2L830.8 387.8L826.2 376.4Z" fill="#72a379"/>
<path d="M819.4 391.2L821.7 403.3L835.5 399.1L830.8 387.8Z" fill="#eae5e7"/>
<path d="M821.7 403.3L824.1 415.3L840.2 410.4L835.5 399.1Z" fill="#eae5e7"/>
<path d="M812.1 342.5L816.8 353.8L821.0 351.5L814.2 341.3Z" fill="#a1af80"/>
<path d="M816.8 353.8L821.5 365.1L827.8 361.7L821.0 351.5Z" fill="#d4c19f"/>
<path d="M821.5 365.1L826.2 376.4L834.6 371.9L827.8 361.7Z" fill="#dbc8b0"/>
<path d="M826.2 376.4L830.8 387.8L841.4 382.1L834.6 371.9Z" fill="#d4c19f"/>
<path d="M830.8 387.8L835.5 399.1L848.3 392.3L841.4 382.1Z" fill="#dbc8b0"/>
<path d="M835.5 399.1L840.2 410.4L855.1 402.5L848.3 392.3Z" fill="#eae5e7"/>
<path d="M840.2 410.4L844.9 421.7L861.9 412.7L855.1 402.5Z" fill="#eae5e7"/>
<path d="M814.2 341.3L821.0 351.5L824.7 348.5L816.1 339.8Z" fill="#e5dcd7"/>
<path d="M827.8 361.7L834.6 371.9L842.1 365.8L833.4 357.1Z" fill="#b0b484"/>
<path d="M834.6 371.9L841.4 382.1L850.7 374.5L842.1 365.8Z" fill="#93ab7e"/>
<path d="M841.4 382.1L848.3 392.3L859.4 383.1L850.7 374.5Z" fill="#beb888"/>
<path d="M848.3 392.3L855.1 402.5L868.1 391.8L859.4 383.1Z" fill="#e0d2c4"/>
<path d="M855.1 402.5L861.9 412.7L876.7 400.5L868.1 391.8Z" fill="#eae5e7"/>
<path d="M861.9 412.7L868.7 422.9L885.4 409.1L876.7 400.5Z" fill="#eae5e7"/>
<path d="M807.4 331.2L816.1 339.8L817.6 338.0Z" fill="#eae5e7"/>
<path d="M816.1 339.8L824.7 348.5L827.8 344.8L817.6 338.0Z" fill="#dbc8b0"/>
<path d="M824.7 348.5L833.4 357.1L838.0 351.6L827.8 344.8Z" fill="#b0b484"/>
<path d="M833.4 357.1L842.1 365.8L848.2 358.4L838.0 351.6Z" fill="#eae5e7"/>
<path d="M842.1 365.8L850.7 374.5L858.3 365.2L848.2 358.4Z" fill="#e0d2c4"/>
<path d="M850.7 374.5L859.4 383.1L868.5 372.0L858.3 365.2Z" fill="#a1af80"/>
<path d="M859.4 383.1L868.1 391.8L878.7 378.8L868.5 372.0Z" fill="#a1af80"/>
<path d="M868.1 391.8L876.7 400.5L888.9 385.6L878.7 378.8Z" fill="#e0d2c4"/>
<path d="M807.4 331.2L817.6 338.0L818.7 335.8Z" fill="#eae5e7"/>
<path d="M817.6 338.0L827.8 344.8L830.0 340.5L818.7 335.8Z" fill="#d4c19f"/>
<path d="M827.8 344.8L838.0 351.6L841.4 345.2L830.0 340.5Z" fill="#b0b484"/>
<path d="M838.0 351.6L848.2 358.4L852.7 349.9L841.4 345.2Z" fill="#e0d2c4"/>
<path d="M848.2 358.4L858.3 365.2L864.0 354.6L852.7 349.9Z" fill="#cbbc92"/>
<path d="M858.3 365.2L868.5 372.0L875.3 359.3L864.0 354.6Z" fill="#dbc8b0"/>
<path d="M868.5 372.0L878.7 378.8L886.7 364.0L875.3 359.3Z" fill="#dbc8b0"/>
<path d="M878.7 378.8L888.9 385.6L898.0 368.7L886.7 364.0Z" fill="#e0d2c4"/>
<path d="M807.4 331.2L818.7 335.8L819.4 333.5Z" fill="#eae5e7"/>
<path d="M818.7 335.8L830.0 340.5L831.4 335.9L819.4 333.5Z" fill="#d4c19f"/>
<path d="M830.0 340.5L841.4 345.2L843.5 338.3L831.4 335.9Z" fill="#93ab7e"/>
<path d="M841.4 345.2L852.7 349.9L855.5 340.7L843.5 338.3Z" fill="#dbc8b0"/>
<path d="M852.7 349.9L864.0 354.6L867.5 343.1L855.5 340.7Z" fill="#cbbc92"/>
<path d="M864.0 354.6L875.3 359.3L879.5 345.5L867.5 343.1Z" fill="#e5dcd7"/>
<path d="M875.3 359.3L886.7 364.0L891.5 347.9L879.5 345.5Z" fill="#dbc8b0"/>
<path d="M886.7 364.0L898.0 368.7L903.6 350.3L891.5 347.9Z" fill="#e5dcd7"/>
<path d="M807.4 331.2L819.4 333.5L819.7 331.2Z" fill="#eae5e7"/>
<path d="M819.4 333.5L831.4 335.9L831.9 331.2L819.7 331.2Z" fill="#a1af80"/>
<path d="M831.4 335.9L843.5 338.3L844.2 331.2L831.9 331.2Z" fill="#72a379"/>
<path d="M843.5 338.3L855.5 340.7L856.4 331.2L844.2 331.2Z" fill="#beb888"/>
<path d="M855.5 340.7L867.5 343.1L868.7 331.2L856.4 331.2Z" fill="#e5dcd7"/>
<path d="M867.5 343.1L879.5 345.5L880.9 331.2L868.7 331.2Z" fill="#eae5e7"/>
<path d="M879.5 345.5L891.5 347.9L893.2 331.2L880.9 331.2Z" fill="#e0d2c4"/>
<path d="M891.5 347.9L903.6 350.3L905.4 331.2L893.2 331.2Z" fill="#e5dcd7"/>
</g>
<g stroke="#b0b0b0" stroke-width="1.1" fill="none" clip-path="url(#c1)">
<circle cx="807.6" cy="331.9" r="54.0"/>
<circle cx="807.6" cy="331.9" r="108.1"/>
<circle cx="807.6" cy="331.9" r="162.1"/>
<circle cx="807.6" cy="331.9" r="216.2"/>
<line x1="807.6" y1="331.9" x2="973.3" y2="166.1"/>
<line x1="807.6" y1="331.9" x2="641.9" y2="166.1"/>
<line x1="807.6" y1="331.9" x2="641.9" y2="497.6"/>
<line x1="807.6" y1="331.9" x2="973.3" y2="497.6"/>
<line x1="808.5" y1="97.5" x2="808.5" y2="566.2"/>
<line x1="573.2" y1="332.5" x2="1042.0" y2="332.5"/>
</g>
<circle cx="807.6" cy="331.9" r="234.4" fill="none" stroke="#000" stroke-width="1.1"/>
<rect x="1041.1" y="331.5" width="1.8" height="1.8" fill="#000"/>
<circle cx="1341.7" cy="331.9" r="234.4" fill="#eeedf3"/>
<g clip-path="url(#c2)" shape-rendering="crispEdges">
<path d="M1341.5 331.2L1353.8 331.2L1353.5 328.8Z" fill="#eae5e7"/>
<path d="M1353.8 331.2L1366.0 331.2L1365.5 326.4L1353.5 328.8Z" fill="#e5dcd7"/>
<path d="M1366.0 331.2L1378.3 331.2L1377.6 324.0L1365.5 326.4Z" fill="#eae5e7"/>
<path d="M1341.5 331.2L1353.5 328.8L1352.8 326.5Z" fill="#eae5e7"/>
<path d="M1353.5 328.8L1365.5 326.4L1364.1 321.8L1352.8 326.5Z" fill="#dbc8b0"/>
<path d="M1365.5 326.4L1377.6 324.0L1375.5 317.1L1364.1 321.8Z" fill="#eae5e7"/>
<path d="M1377.6 324.0L1389.6 321.6L1386.8 312.4L1375.5 317.1Z" fill="#eae5e7"/>
<path d="M1341.5 331.2L1352.8 326.5L1351.7 324.3Z" fill="#eae5e7"/>
<path d="M1352.8 326.5L1364.1 321.8L1361.9 317.5L1351.7 324.3Z" fill="#dbc8b0"/>
<path d="M1364.1 321.8L1375.5 317.1L1372.1 310.7L1361.9 317.5Z" fill="#eae5e7"/>
<path d="M1386.8 312.4L1398.1 307.7L1392.4 297.1L1382.3 303.9Z" fill="#eae5e7"/>
<path d="M1351.7 324.3L1361.9 317.5L1358.8 313.8L1350.2 322.5Z" fill="#eae5e7"/>
<path d="M1361.9 317.5L1372.1 310.7L1367.5 305.2L1358.8 313.8Z" fill="#e0d2c4"/>
<path d="M1372.1 310.7L1382.3 303.9L1376.2 296.5L1367.5 305.2Z" fill="#eae5e7"/>
<path d="M1392.4 297.1L1402.6 290.3L1393.5 279.2L1384.8 287.8Z" fill="#eae5e7"/>
<path d="M1350.2 322.5L1358.8 313.8L1355.1 310.8L1348.3 321.0Z" fill="#eae5e7"/>
<path d="M1358.8 313.8L1367.5 305.2L1361.9 300.6L1355.1 310.8Z" fill="#e0d2c4"/>
<path d="M1367.5 305.2L1376.2 296.5L1368.7 290.4L1361.9 300.6Z" fill="#eae5e7"/>
<path d="M1348.3 321.0L1355.1 310.8L1350.9 308.5L1346.2 319.8Z" fill="#eae5e7"/>
<path d="M1355.1 310.8L1361.9 300.6L1355.6 297.2L1350.9 308.5Z" fill="#d4c19f"/>
<path d="M1361.9 300.6L1368.7 290.4L1360.3 285.9L1355.6 297.2Z" fill="#eae5e7"/>
<path d="M1368.7 290.4L1375.5 280.2L1364.9 274.5L1360.3 285.9Z" fill="#eae5e7"/>
<path d="M1375.5 280.2L1382.4 270.0L1369.6 263.2L1364.9 274.5Z" fill="#eae5e7"/>
<path d="M1346.2 319.8L1350.9 308.5L1346.3 307.1L1343.9 319.1Z" fill="#eae5e7"/>
<path d="M1350.9 308.5L1355.6 297.2L1348.7 295.1L1346.3 307.1Z" fill="#e0d2c4"/>
<path d="M1343.9 319.1L1346.3 307.1L1341.5 306.6L1341.5 318.9Z" fill="#eae5e7"/>
<path d="M1346.3 307.1L1348.7 295.1L1341.5 294.4L1341.5 306.6Z" fill="#e5dcd7"/>
<path d="M1348.7 295.1L1351.1 283.1L1341.5 282.1L1341.5 294.4Z" fill="#eae5e7"/>
<path d="M1341.5 318.9L1341.5 306.6L1336.7 307.1L1339.1 319.1Z" fill="#eae5e7"/>
<path d="M1341.5 306.6L1341.5 294.4L1334.3 295.1L1336.7 307.1Z" fill="#e0d2c4"/>
<path d="M1341.5 294.4L1341.5 282.1L1331.9 283.1L1334.3 295.1Z" fill="#e5dcd7"/>
<path d="M1341.5 269.9L1341.5 257.6L1327.2 259.0L1329.5 271.1Z" fill="#eae5e7"/>
<path d="M1339.1 319.1L1336.7 307.1L1332.1 308.5L1336.8 319.8Z" fill="#eae5e7"/>
<path d="M1336.7 307.1L1334.3 295.1L1327.4 297.2L1332.1 308.5Z" fill="#eae5e7"/>
<path d="M1334.3 295.1L1331.9 283.1L1322.7 285.9L1327.4 297.2Z" fill="#e5dcd7"/>
<path d="M1336.8 319.8L1332.1 308.5L1327.9 310.8L1334.7 321.0Z" fill="#eae5e7"/>
<path d="M1332.1 308.5L1327.4 297.2L1321.1 300.6L1327.9 310.8Z" fill="#dbc8b0"/>
<path d="M1318.1 274.5L1313.4 263.2L1300.6 270.0L1307.5 280.2Z" fill="#eae5e7"/>
<path d="M1334.7 321.0L1327.9 310.8L1324.2 313.8L1332.8 322.5Z" fill="#eae5e7"/>
<path d="M1327.9 310.8L1321.1 300.6L1315.5 305.2L1324.2 313.8Z" fill="#dbc8b0"/>
<path d="M1307.5 280.2L1300.6 270.0L1289.5 279.2L1298.2 287.8Z" fill="#eae5e7"/>
<path d="M1332.8 322.5L1324.2 313.8L1321.1 317.5L1331.3 324.3Z" fill="#eae5e7"/>
<path d="M1324.2 313.8L1315.5 305.2L1310.9 310.7L1321.1 317.5Z" fill="#e0d2c4"/>
<path d="M1315.5 305.2L1306.8 296.5L1300.7 303.9L1310.9 310.7Z" fill="#e5dcd7"/>
<path d="M1306.8 296.5L1298.2 287.8L1290.6 297.1L1300.7 303.9Z" fill="#eae5e7"/>
<path d="M1298.2 287.8L1289.5 279.2L1280.4 290.3L1290.6 297.1Z" fill="#e5dcd7"/>
<path d="M1289.5 279.2L1280.8 270.5L1270.2 283.5L1280.4 290.3Z" fill="#d4c19f"/>
<path d="M1280.8 270.5L1272.2 261.8L1260.0 276.7L1270.2 283.5Z" fill="#e5dcd7"/>
<path d="M1272.2 261.8L1263.5 253.2L1249.8 269.9L1260.0 276.7Z" fill="#eae5e7"/>
<path d="M1331.3 324.3L1321.1 317.5L1318.9 321.8L1330.2 326.5Z" fill="#eae5e7"/>
<path d="M1321.1 317.5L1310.9 310.7L1307.5 317.1L1318.9 321.8Z" fill="#dbc8b0"/>
<path d="M1310.9 310.7L1300.7 303.9L1296.2 312.4L1307.5 317.1Z" fill="#d4c19f"/>
<path d="M1300.7 303.9L1290.6 297.1L1284.9 307.7L1296.2 312.4Z" fill="#a1af80"/>
<path d="M1290.6 297.1L1280.4 290.3L1273.6 303.0L1284.9 307.7Z" fill="#cbbc92"/>
<path d="M1280.4 290.3L1270.2 283.5L1262.2 298.3L1273.6 303.0Z" fill="#e5dcd7"/>
<path d="M1270.2 283.5L1260.0 276.7L1250.9 293.6L1262.2 298.3Z" fill="#dbc8b0"/>
<path d="M1260.0 276.7L1249.8 269.9L1239.6 288.9L1250.9 293.6Z" fill="#a1af80"/>
<path d="M1249.8 269.9L1239.6 263.1L1228.3 284.3L1239.6 288.9Z" fill="#dbc8b0"/>
<path d="M1239.6 263.1L1229.4 256.3L1217.0 279.6L1228.3 284.3Z" fill="#eae5e7"/>
<path d="M1229.4 256.3L1219.2 249.4L1205.6 274.9L1217.0 279.6Z" fill="#e5dcd7"/>
<path d="M1219.2 249.4L1209.0 242.6L1194.3 270.2L1205.6 274.9Z" fill="#eae5e7"/>
<path d="M1341.5 331.2L1330.2 326.5L1329.5 328.8Z" fill="#eae5e7"/>
<path d="M1330.2 326.5L1318.9 321.8L1317.5 326.4L1329.5 328.8Z" fill="#cbbc92"/>
<path d="M1318.9 321.8L1307.5 317.1L1305.4 324.0L1317.5 326.4Z" fill="#dbc8b0"/>
<path d="M1307.5 317.1L1296.2 312.4L1293.4 321.6L1305.4 324.0Z" fill="#72a379"/>
<path d="M1296.2 312.4L1284.9 307.7L1281.4 319.2L1293.4 321.6Z" fill="#4c9875"/>
<path d="M1284.9 307.7L1273.6 303.0L1269.4 316.8L1281.4 319.2Z" fill="#057370"/>
<path d="M1273.6 303.0L1262.2 298.3L1257.4 314.4L1269.4 316.8Z" fill="#72a379"/>
<path d="M1262.2 298.3L1250.9 293.6L1245.3 312.0L1257.4 314.4Z" fill="#4c9875"/>
<path d="M1250.9 293.6L1239.6 288.9L1233.3 309.6L1245.3 312.0Z" fill="#b0b484"/>
<path d="M1239.6 288.9L1228.3 284.3L1221.3 307.2L1233.3 309.6Z" fill="#a1af80"/>
<path d="M1228.3 284.3L1217.0 279.6L1209.3 304.9L1221.3 307.2Z" fill="#e0d2c4"/>
<path d="M1217.0 279.6L1205.6 274.9L1197.3 302.5L1209.3 304.9Z" fill="#d4c19f"/>
<path d="M1205.6 274.9L1194.3 270.2L1185.2 300.1L1197.3 302.5Z" fill="#d4c19f"/>
<path d="M1341.5 331.2L1329.5 328.8L1329.2 331.2Z" fill="#eae5e7"/>
<path d="M1329.5 328.8L1317.5 326.4L1317.0 331.2L1329.2 331.2Z" fill="#e5dcd7"/>
<path d="M1317.5 326.4L1305.4 324.0L1304.7 331.2L1317.0 331.2Z" fill="#609e77"/>
<path d="M1305.4 324.0L1293.4 321.6L1292.5 331.2L1304.7 331.2Z" fill="#24405b"/>
<path d="M1293.4 321.6L1281.4 319.2L1280.2 331.2L1292.5 331.2Z" fill="#096a6f"/>
<path d="M1281.4 319.2L1269.4 316.8L1268.0 331.2L1280.2 331.2Z" fill="#201a38"/>
<path d="M1269.4 316.8L1257.4 314.4L1255.7 331.2L1268.0 331.2Z" fill="#252e4b"/>
<path d="M1257.4 314.4L1245.3 312.0L1243.5 331.2L1255.7 331.2Z" fill="#2e8f74"/>
<path d="M1245.3 312.0L1233.3 309.6L1231.2 331.2L1243.5 331.2Z" fill="#dbc8b0"/>
<path d="M1233.3 309.6L1221.3 307.2L1219.0 331.2L1231.2 331.2Z" fill="#e5dcd7"/>
<path d="M1221.3 307.2L1209.3 304.9L1206.7 331.2L1219.0 331.2Z" fill="#e5dcd7"/>
<path d="M1209.3 304.9L1197.3 302.5L1194.4 331.2L1206.7 331.2Z" fill="#b0b484"/>
<path d="M1197.3 302.5L1185.2 300.1L1182.2 331.2L1194.4 331.2Z" fill="#dbc8b0"/>
<path d="M1341.5 331.2L1329.2 331.2L1329.5 333.5Z" fill="#eae5e7"/>
<path d="M1329.2 331.2L1317.0 331.2L1317.5 335.9L1329.5 333.5Z" fill="#e0d2c4"/>
<path d="M1317.0 331.2L1304.7 331.2L1305.4 338.3L1317.5 335.9Z" fill="#b0b484"/>
<path d="M1304.7 331.2L1292.5 331.2L1293.4 340.7L1305.4 338.3Z" fill="#83a77b"/>
<path d="M1292.5 331.2L1280.2 331.2L1281.4 343.1L1293.4 340.7Z" fill="#2e8f74"/>
<path d="M1280.2 331.2L1268.0 331.2L1269.4 345.5L1281.4 343.1Z" fill="#188573"/>
<path d="M1268.0 331.2L1255.7 331.2L1257.4 347.9L1269.4 345.5Z" fill="#188573"/>
<path d="M1255.7 331.2L1243.5 331.2L1245.3 350.3L1257.4 347.9Z" fill="#cbbc92"/>
<path d="M1243.5 331.2L1231.2 331.2L1233.3 352.7L1245.3 350.3Z" fill="#e0d2c4"/>
<path d="M1231.2 331.2L1219.0 331.2L1221.3 355.1L1233.3 352.7Z" fill="#e0d2c4"/>
<path d="M1219.0 331.2L1206.7 331.2L1209.3 357.4L1221.3 355.1Z" fill="#eae5e7"/>
<path d="M1341.5 331.2L1329.5 333.5L1330.2 335.8Z" fill="#eae5e7"/>
<path d="M1329.5 333.5L1317.5 335.9L1318.9 340.5L1330.2 335.8Z" fill="#b0b484"/>
<path d="M1317.5 335.9L1305.4 338.3L1307.5 345.2L1318.9 340.5Z" fill="#e0d2c4"/>
<path d="M1305.4 338.3L1293.4 340.7L1296.2 349.9L1307.5 345.2Z" fill="#4c9875"/>
<path d="M1293.4 340.7L1281.4 343.1L1284.9 354.6L1296.2 349.9Z" fill="#2e8f74"/>
<path d="M1281.4 343.1L1269.4 345.5L1273.6 359.3L1284.9 354.6Z" fill="#3d9374"/>
<path d="M1269.4 345.5L1257.4 347.9L1262.2 364.0L1273.6 359.3Z" fill="#3d9374"/>
<path d="M1257.4 347.9L1245.3 350.3L1250.9 368.7L1262.2 364.0Z" fill="#d4c19f"/>
<path d="M1245.3 350.3L1233.3 352.7L1239.6 373.4L1250.9 368.7Z" fill="#dbc8b0"/>
<path d="M1341.5 331.2L1330.2 335.8L1331.3 338.0Z" fill="#eae5e7"/>
<path d="M1330.2 335.8L1318.9 340.5L1321.1 344.8L1331.3 338.0Z" fill="#e5dcd7"/>
<path d="M1318.9 340.5L1307.5 345.2L1310.9 351.6L1321.1 344.8Z" fill="#b0b484"/>
<path d="M1307.5 345.2L1296.2 349.9L1300.7 358.4L1310.9 351.6Z" fill="#1e5166"/>
<path d="M1296.2 349.9L1284.9 354.6L1290.6 365.2L1300.7 358.4Z" fill="#93ab7e"/>
<path d="M1284.9 354.6L1273.6 359.3L1280.4 372.0L1290.6 365.2Z" fill="#057370"/>
<path d="M1273.6 359.3L1262.2 364.0L1270.2 378.8L1280.4 372.0Z" fill="#dbc8b0"/>
<path d="M1262.2 364.0L1250.9 368.7L1260.0 385.6L1270.2 378.8Z" fill="#cbbc92"/>
<path d="M1250.9 368.7L1239.6 373.4L1249.8 392.4L1260.0 385.6Z" fill="#e0d2c4"/>
<path d="M1341.5 331.2L1331.3 338.0L1332.8 339.8Z" fill="#eae5e7"/>
<path d="M1331.3 338.0L1321.1 344.8L1324.2 348.5L1332.8 339.8Z" fill="#e0d2c4"/>
<path d="M1321.1 344.8L1310.9 351.6L1315.5 357.1L1324.2 348.5Z" fill="#a1af80"/>
<path d="M1310.9 351.6L1300.7 358.4L1306.8 365.8L1315.5 357.1Z" fill="#4c9875"/>
<path d="M1300.7 358.4L1290.6 365.2L1298.2 374.5L1306.8 365.8Z" fill="#93ab7e"/>
<path d="M1290.6 365.2L1280.4 372.0L1289.5 383.1L1298.2 374.5Z" fill="#dbc8b0"/>
<path d="M1280.4 372.0L1270.2 378.8L1280.8 391.8L1289.5 383.1Z" fill="#dbc8b0"/>
<path d="M1270.2 378.8L1260.0 385.6L1272.2 400.5L1280.8 391.8Z" fill="#e0d2c4"/>
<path d="M1332.8 339.8L1324.2 348.5L1327.9 351.5L1334.7 341.3Z" fill="#e5dcd7"/>
<path d="M1324.2 348.5L1315.5 357.1L1321.1 361.7L1327.9 351.5Z" fill="#e0d2c4"/>
<path d="M1315.5 357.1L1306.8 365.8L1314.3 371.9L1321.1 361.7Z" fill="#eae5e7"/>
<path d="M1306.8 365.8L1298.2 374.5L1307.5 382.1L1314.3 371.9Z" fill="#e5dcd7"/>
<path d="M1298.2 374.5L1289.5 383.1L1300.6 392.3L1307.5 382.1Z" fill="#e5dcd7"/>
<path d="M1289.5 383.1L1280.8 391.8L1293.8 402.5L1300.6 392.3Z" fill="#eae5e7"/>
<path d="M1334.7 341.3L1327.9 351.5L1332.1 353.8L1336.8 342.5Z" fill="#d4c19f"/>
<path d="M1327.9 351.5L1321.1 361.7L1327.4 365.1L1332.1 353.8Z" fill="#e5dcd7"/>
<path d="M1321.1 361.7L1314.3 371.9L1322.7 376.4L1327.4 365.1Z" fill="#eae5e7"/>
<path d="M1314.3 371.9L1307.5 382.1L1318.1 387.8L1322.7 376.4Z" fill="#eae5e7"/>
<path d="M1336.8 342.5L1332.1 353.8L1336.7 355.2L1339.1 343.2Z" fill="#eae5e7"/>
<path d="M1322.7 376.4L1318.1 387.8L1329.5 391.2L1331.9 379.2Z" fill="#eae5e7"/>
<path d="M1318.1 387.8L1313.4 399.1L1327.2 403.3L1329.5 391.2Z" fill="#eae5e7"/>
<path d="M1339.1 343.2L1336.7 355.2L1341.5 355.7L1341.5 343.4Z" fill="#e5dcd7"/>
<path d="M1334.3 367.2L1331.9 379.2L1341.5 380.2L1341.5 367.9Z" fill="#e5dcd7"/>
<path d="M1329.5 391.2L1327.2 403.3L1341.5 404.7L1341.5 392.4Z" fill="#e5dcd7"/>
<path d="M1341.5 343.4L1341.5 355.7L1346.3 355.2L1343.9 343.2Z" fill="#e5dcd7"/>
<path d="M1341.5 355.7L1341.5 367.9L1348.7 367.2L1346.3 355.2Z" fill="#eae5e7"/>
<path d="M1341.5 367.9L1341.5 380.2L1351.1 379.2L1348.7 367.2Z" fill="#eae5e7"/>
<path d="M1341.5 380.2L1341.5 392.4L1353.5 391.2L1351.1 379.2Z" fill="#eae5e7"/>
<path d="M1343.9 343.2L1346.3 355.2L1350.9 353.8L1346.2 342.5Z" fill="#eae5e7"/>
<path d="M1346.3 355.2L1348.7 367.2L1355.6 365.1L1350.9 353.8Z" fill="#eae5e7"/>
<path d="M1348.7 367.2L1351.1 379.2L1360.3 376.4L1355.6 365.1Z" fill="#eae5e7"/>
<path d="M1351.1 379.2L1353.5 391.2L1364.9 387.8L1360.3 376.4Z" fill="#eae5e7"/>
<path d="M1346.2 342.5L1350.9 353.8L1355.1 351.5L1348.3 341.3Z" fill="#eae5e7"/>
<path d="M1348.3 341.3L1355.1 351.5L1358.8 348.5L1350.2 339.8Z" fill="#eae5e7"/>
<path d="M1368.7 371.9L1375.5 382.1L1384.8 374.5L1376.2 365.8Z" fill="#eae5e7"/>
<path d="M1341.5 331.2L1350.2 339.8L1351.7 338.0Z" fill="#eae5e7"/>
<path d="M1350.2 339.8L1358.8 348.5L1361.9 344.8L1351.7 338.0Z" fill="#e0d2c4"/>
<path d="M1358.8 348.5L1367.5 357.1L1372.1 351.6L1361.9 344.8Z" fill="#e0d2c4"/>
<path d="M1351.7 338.0L1361.9 344.8L1364.1 340.5L1352.8 335.8Z" fill="#eae5e7"/>
<path d="M1372.1 351.6L1382.3 358.4L1386.8 349.9L1375.5 345.2Z" fill="#eae5e7"/>
<path d="M1382.3 358.4L1392.4 365.2L1398.1 354.6L1386.8 349.9Z" fill="#eae5e7"/>
<path d="M1352.8 335.8L1364.1 340.5L1365.5 335.9L1353.5 333.5Z" fill="#eae5e7"/>
<path d="M1364.1 340.5L1375.5 345.2L1377.6 338.3L1365.5 335.9Z" fill="#eae5e7"/>
<path d="M1375.5 345.2L1386.8 349.9L1389.6 340.7L1377.6 338.3Z" fill="#eae5e7"/>
<path d="M1341.5 331.2L1353.5 333.5L1353.8 331.2Z" fill="#eae5e7"/>
<path d="M1353.5 333.5L1365.5 335.9L1366.0 331.2L1353.8 331.2Z" fill="#e5dcd7"/>
</g>
<g stroke="#b0b0b0" stroke-width="1.1" fill="none" clip-path="url(#c2)">
<circle cx="1341.7" cy="331.9" r="54.0"/>
<circle cx="1341.7" cy="331.9" r="108.1"/>
<circle cx="1341.7" cy="331.9" r="162.1"/>
<circle cx="1341.7" cy="331.9" r="216.2"/>
<line x1="1341.7" y1="331.9" x2="1507.4" y2="166.1"/>
<line x1="1341.7" y1="331.9" x2="1176.0" y2="166.1"/>
<line x1="1341.7" y1="331.9" x2="1176.0" y2="497.6"/>
<line x1="1341.7" y1="331.9" x2="1507.4" y2="497.6"/>
<line x1="1342.5" y1="97.5" x2="1342.5" y2="566.2"/>
<line x1="1107.3" y1="332.5" x2="1576.1" y2="332.5"/>
</g>
<circle cx="1341.7" cy="331.9" r="234.4" fill="none" stroke="#000" stroke-width="1.1"/>
<rect x="1575.2" y="331.5" width="1.8" height="1.8" fill="#000"/>
<rect x="406.4" y="605.4" width="800.5" height="29.9" fill="url(#cb)" stroke="#000" stroke-width="1"/>
<line x1="406.4" y1="635.3" x2="406.4" y2="657.2" stroke="#000" stroke-width="1"/>
<line x1="549.2" y1="635.3" x2="549.2" y2="657.2" stroke="#000" stroke-width="1"/>
<line x1="692.0" y1="635.3" x2="692.0" y2="657.2" stroke="#000" stroke-width="1"/>
<line x1="834.8" y1="635.3" x2="834.8" y2="657.2" stroke="#000" stroke-width="1"/>
<line x1="977.6" y1="635.3" x2="977.6" y2="657.2" stroke="#000" stroke-width="1"/>
<line x1="1120.4" y1="635.3" x2="1120.4" y2="657.2" stroke="#000" stroke-width="1"/>
<g style="filter:grayscale(1);text-rendering:geometricPrecision">
<text x="738.07" y="31.90" font-size="29.20" textLength="134.22" lengthAdjust="spacingAndGlyphs">Nov 2005</text>
<text x="236.39" y="60.60" font-size="24.80" textLength="74.19" lengthAdjust="spacingAndGlyphs">CIOFS</text>
<text x="758.88" y="60.60" font-size="24.80" textLength="98.14" lengthAdjust="spacingAndGlyphs">NWGOA</text>
<text x="1250.72" y="60.60" font-size="24.80" textLength="181.61" lengthAdjust="spacingAndGlyphs">CIOFS-NWGOA</text>
<text x="266.89" y="83.70" font-size="19.10" textLength="15.37" lengthAdjust="spacingAndGlyphs">N</text>
<text x="267.29" y="591.80" font-size="19.10" textLength="13.48" lengthAdjust="spacingAndGlyphs">S</text>
<text x="11.92" y="337.60" font-size="19.10" textLength="18.03" lengthAdjust="spacingAndGlyphs">W</text>
<text x="522.12" y="337.60" font-size="19.10" textLength="12.21" lengthAdjust="spacingAndGlyphs">E</text>
<text x="323.86" y="307.40" font-size="19.10" textLength="29.24" lengthAdjust="spacingAndGlyphs">0.5</text>
<text x="374.24" y="286.90" font-size="19.10" textLength="28.06" lengthAdjust="spacingAndGlyphs">1.0</text>
<text x="424.03" y="265.80" font-size="19.10" textLength="28.29" lengthAdjust="spacingAndGlyphs">1.5</text>
<text x="473.53" y="245.90" font-size="19.10" textLength="29.84" lengthAdjust="spacingAndGlyphs">2.0</text>
<text x="800.89" y="83.70" font-size="19.10" textLength="15.48" lengthAdjust="spacingAndGlyphs">N</text>
<text x="801.32" y="591.80" font-size="19.10" textLength="13.07" lengthAdjust="spacingAndGlyphs">S</text>
<text x="546.05" y="337.60" font-size="19.10" textLength="18.04" lengthAdjust="spacingAndGlyphs">W</text>
<text x="1056.23" y="337.60" font-size="19.10" textLength="12.09" lengthAdjust="spacingAndGlyphs">E</text>
<text x="858.03" y="307.40" font-size="19.10" textLength="29.18" lengthAdjust="spacingAndGlyphs">0.5</text>
<text x="908.48" y="286.90" font-size="19.10" textLength="27.80" lengthAdjust="spacingAndGlyphs">1.0</text>
<text x="958.17" y="265.80" font-size="19.10" textLength="28.15" lengthAdjust="spacingAndGlyphs">1.5</text>
<text x="1007.67" y="245.90" font-size="19.10" textLength="29.69" lengthAdjust="spacingAndGlyphs">2.0</text>
<text x="1335.04" y="83.70" font-size="19.10" textLength="15.16" lengthAdjust="spacingAndGlyphs">N</text>
<text x="1335.90" y="591.80" font-size="19.10" textLength="12.83" lengthAdjust="spacingAndGlyphs">S</text>
<text x="1080.18" y="337.60" font-size="19.10" textLength="18.04" lengthAdjust="spacingAndGlyphs">W</text>
<text x="1589.95" y="337.60" font-size="19.10" textLength="12.62" lengthAdjust="spacingAndGlyphs">E</text>
<text x="1392.42" y="307.40" font-size="19.10" textLength="29.03" lengthAdjust="spacingAndGlyphs">0.5</text>
<text x="1442.86" y="286.90" font-size="19.10" textLength="27.57" lengthAdjust="spacingAndGlyphs">1.0</text>
<text x="1491.96" y="265.80" font-size="19.10" textLength="28.75" lengthAdjust="spacingAndGlyphs">1.5</text>
<text x="1541.46" y="245.90" font-size="19.10" textLength="30.32" lengthAdjust="spacingAndGlyphs">2.0</text>
<text x="399.08" y="680.80" font-size="23.10" textLength="14.32" lengthAdjust="spacingAndGlyphs">0</text>
<text x="541.77" y="680.80" font-size="23.10" textLength="13.87" lengthAdjust="spacingAndGlyphs">5</text>
<text x="677.93" y="680.80" font-size="23.10" textLength="26.98" lengthAdjust="spacingAndGlyphs">10</text>
<text x="820.65" y="680.80" font-size="23.10" textLength="27.66" lengthAdjust="spacingAndGlyphs">15</text>
<text x="964.01" y="680.80" font-size="23.10" textLength="27.29" lengthAdjust="spacingAndGlyphs">20</text>
<text x="1106.66" y="680.80" font-size="23.10" textLength="27.18" lengthAdjust="spacingAndGlyphs">25</text>
<text x="522.88" y="709.10" font-size="23.10" textLength="564.87" lengthAdjust="spacingAndGlyphs">Currents [m/s] at COI0519; number of occurrences</text>
</g>
</svg></body></html>
